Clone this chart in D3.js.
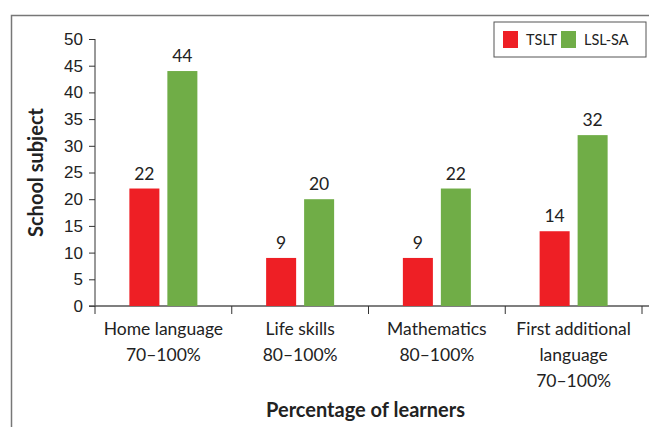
<!DOCTYPE html>
<html>
<head>
<meta charset="utf-8">
<script src="https://cdn.jsdelivr.net/npm/d3@7"></script>
<style>
  body { margin: 0; background: #fff; }
  svg { display: block; font-family: Lato, "Open Sans", sans-serif; }
</style>
</head>
<body>
<div id="chart"></div>
<script>
// Data
var categories = [
    ["Home language", "70\u2013100%"],
    ["Life skills", "80\u2013100%"],
    ["Mathematics", "80\u2013100%"],
    ["First additional", "language", "70\u2013100%"]
];
var seriesNames = ["TSLT", "LSL-SA"];
var tslt = [22, 9, 9, 14];
var lslsa = [44, 20, 22, 32];
var yTicks = [0, 5, 10, 15, 20, 25, 30, 35, 40, 45, 50];

var W = 649, H = 427;
var svg = d3.select("#chart").append("svg")
    .attr("width", W)
    .attr("height", H);

// outer frame (top + left only)
svg.append("path")
    .attr("d", "M11.5," + H + "V15.5H" + W)
    .attr("fill", "none")
    .attr("stroke", "#777")
    .attr("stroke-width", 1.5);

var margin = { top: 39, left: 95, right: 7, bottom: 121 };
var width = W - margin.left - margin.right,
    height = H - margin.top - margin.bottom;

var g = svg.append("g")
    .attr("transform", "translate(" + margin.left + "," + margin.top + ")");

var x0 = d3.scaleBand().domain(d3.range(categories.length)).range([0, width]);
var x1 = d3.scaleBand().domain(seriesNames).range([x0.bandwidth() / 2 - 34, x0.bandwidth() / 2 + 34]).paddingInner(0.21);
var y = d3.scaleLinear().domain([0, 50]).range([height, 0]);
var color = d3.scaleOrdinal().domain(seriesNames).range(["#ee1f25", "#70ad47"]);

// axes
var yAxis = g.append("g")
    .call(d3.axisLeft(y).tickValues(yTicks).tickSize(6).tickPadding(6));
yAxis.select(".domain").attr("d", "M0," + height + "V0").attr("stroke", "#333");
yAxis.selectAll(".tick line").attr("stroke", "#333");
yAxis.selectAll("text").attr("font-size", 17).attr("fill", "#222");

var xAxis = g.append("g")
    .attr("transform", "translate(0," + height + ")")
    .call(d3.axisBottom(x0).tickValues([]).tickSizeOuter(0));
xAxis.select(".domain").attr("d", "M-6,0H" + (width + 10)).attr("stroke", "#555").attr("stroke-width", 1.3);
xAxis.selectAll(".sep")
    .data(d3.range(categories.length + 1))
    .enter().append("line")
    .attr("x1", function (d) { return d * x0.step(); })
    .attr("x2", function (d) { return d * x0.step(); })
    .attr("y1", 0).attr("y2", 8)
    .attr("stroke", "#333");

// category labels
var labels = g.append("g").selectAll("text")
    .data(categories)
    .enter().append("text")
    .attr("x", function (d, i) { return x0(i) + x0.bandwidth() / 2; })
    .attr("y", height + 29)
    .attr("text-anchor", "middle")
    .attr("font-size", 17.5)
    .attr("fill", "#222");
labels.selectAll("tspan")
    .data(function (d) { return d; })
    .enter().append("tspan")
    .attr("x", function () { return d3.select(this.parentNode).attr("x"); })
    .attr("dy", function (d, i) { return i === 0 ? 0 : 26; })
    .text(function (d) { return d; });

// bars
var rows = categories.map(function (c, i) {
    return [{ key: "TSLT", value: tslt[i] }, { key: "LSL-SA", value: lslsa[i] }];
});
var groups = g.selectAll(".cat")
    .data(rows)
    .enter().append("g")
    .attr("class", "cat")
    .attr("transform", function (d, i) { return "translate(" + x0(i) + ",0)"; });

groups.selectAll("rect")
    .data(function (d) { return d; })
    .enter().append("rect")
    .attr("x", function (d) { return x1(d.key); })
    .attr("width", x1.bandwidth())
    .attr("y", function (d) { return y(d.value); })
    .attr("height", function (d) { return height - y(d.value); })
    .attr("fill", function (d) { return color(d.key); });

groups.selectAll(".val")
    .data(function (d) { return d; })
    .enter().append("text")
    .attr("class", "val")
    .attr("x", function (d) { return x1(d.key) + x1.bandwidth() / 2; })
    .attr("y", function (d) { return y(d.value) - 9; })
    .attr("text-anchor", "middle")
    .attr("font-size", 17.5)
    .attr("fill", "#222")
    .text(function (d) { return d.value; });

// axis titles
svg.append("text")
    .attr("x", margin.left + width / 2 - 3)
    .attr("y", 417)
    .attr("text-anchor", "middle")
    .attr("font-size", 20)
    .attr("font-weight", "bold")
    .attr("fill", "#222")
    .text("Percentage of learners");

svg.append("text")
    .attr("transform", "translate(43," + (margin.top + height / 2) + ") rotate(-90)")
    .attr("text-anchor", "middle")
    .attr("font-size", 20)
    .attr("font-weight", "bold")
    .attr("fill", "#222")
    .text("School subject");

// legend
var legend = svg.append("g").attr("transform", "translate(494,22)");
legend.append("rect")
    .attr("width", 152).attr("height", 35)
    .attr("fill", "#fff").attr("stroke", "#555").attr("stroke-width", 1);
var items = legend.selectAll(".item")
    .data(seriesNames)
    .enter().append("g")
    .attr("transform", function (d, i) { return "translate(" + (9 + i * 58) + ",9)"; });
items.append("rect")
    .attr("width", 15).attr("height", 17)
    .attr("fill", function (d) { return color(d); });
items.append("text")
    .attr("x", 23).attr("y", 14)
    .attr("font-size", 14.5)
    .attr("fill", "#222")
    .text(function (d) { return d; });
</script>
</body>
</html>
